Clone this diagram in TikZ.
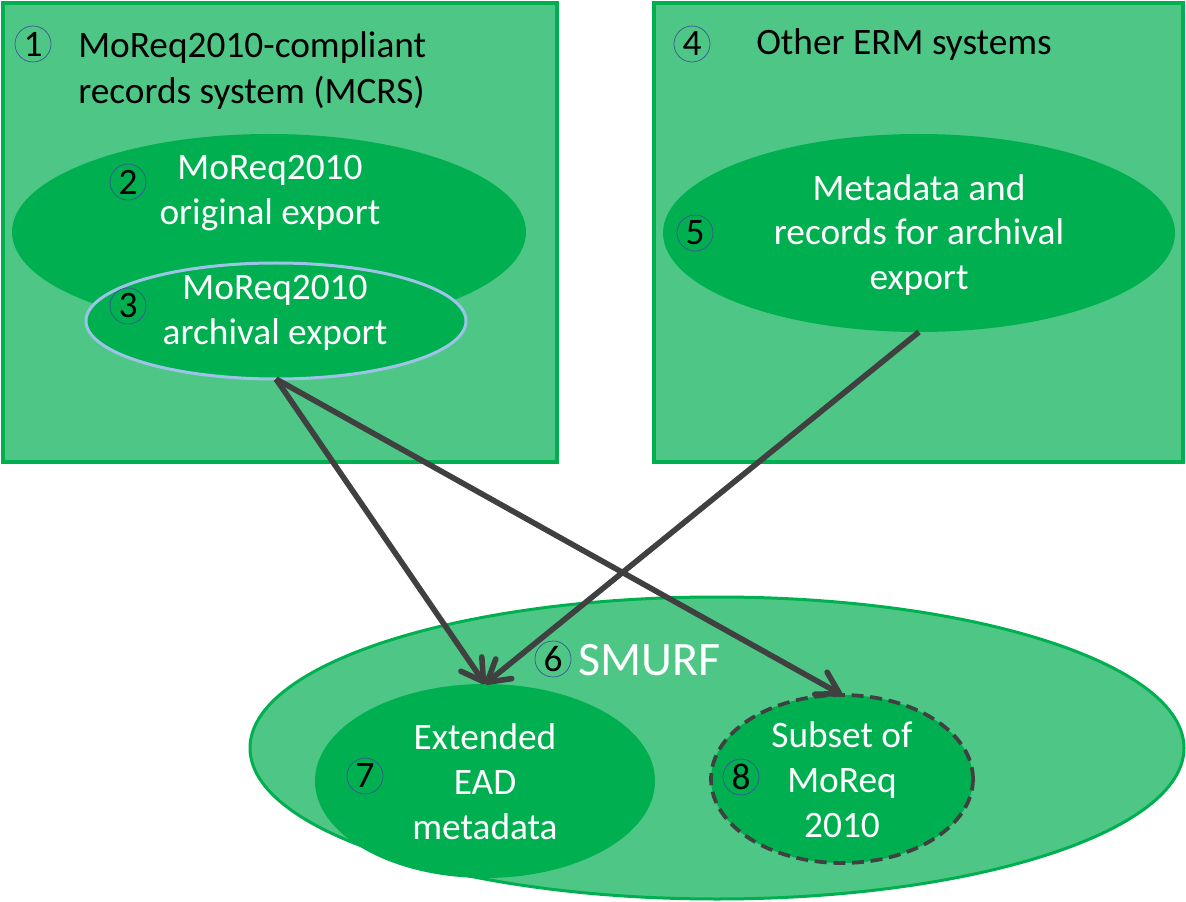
\documentclass[tikz,border=0pt]{standalone}
\usepackage{fontspec}
\setmainfont{Carlito}
\usetikzlibrary{shapes.geometric,arrows.meta}
\definecolor{lightg}{RGB}{78,199,134}
\definecolor{darkg}{RGB}{0,176,80}
\definecolor{edgeg}{RGB}{0,176,80}
\definecolor{arrc}{RGB}{64,64,64}
\definecolor{numc}{RGB}{60,80,150}
\definecolor{paleblue}{RGB}{157,195,230}
\begin{document}
\begin{tikzpicture}[x=0.75pt,y=-0.75pt,
  sysbox/.style={fill=lightg,draw=edgeg,line width=3pt},
  ell/.style={ellipse,inner sep=0pt,outer sep=0pt},
  num/.style={circle,draw=numc,line width=0.5pt,minimum size=27pt,inner sep=0pt,
    font=\fontsize{28}{28}\selectfont,text=black},
  blacktxt/.style={font=\fontsize{28}{34.5}\selectfont,text=black,inner sep=0pt},
  whitetxt/.style={font=\fontsize{28}{33.7}\selectfont,text=white,inner sep=0pt,align=center},
  flow/.style={draw=arrc,line width=4.2pt,line join=round,
    -{Straight Barb[length=16pt,width=19pt,line cap=round,line join=round]}}
]
\useasboundingbox (0,0) rectangle (1186,902);
% system boxes
\path[sysbox] (3,3) rectangle (557,462);
\path[sysbox] (654,3) rectangle (1183,462);
% ellipses in box 1
\node[ell,fill=darkg,minimum width=385.5pt,minimum height=147pt] (e2) at (269,232) {};
\node[ell,fill=darkg,draw=paleblue,line width=2.25pt,minimum width=285pt,minimum height=87pt] (e3) at (276,321) {};
% ellipse in box 4
\node[ell,fill=darkg,minimum width=384pt,minimum height=148.5pt] (e5) at (919,233) {};
% SMURF
\node[ell,fill=lightg,draw=edgeg,line width=2.25pt,minimum width=700.5pt,minimum height=226.5pt] (e6) at (717,748) {};
\node[ell,fill=darkg,minimum width=255pt,minimum height=145.5pt] (e7) at (485,781) {};
\node[ell,fill=darkg,draw=arrc,line width=2.8pt,dash pattern=on 9pt off 5pt,minimum width=196.5pt,minimum height=126pt] (e8) at (842,779) {};
% connectors
\draw[flow] (e3.south) -- (e7.north);
\draw[flow] (e3.south) -- (e8.north);
\draw[flow] (e5.south) -- (e7.north);
% numbers
\node[num] (n1) at (33,44) {1};
\node[num] (n2) at (128,182) {2};
\node[num] (n3) at (128,306) {3};
\node[num] (n4) at (692,44) {4};
\node[num] (n5) at (695,233) {5};
\node[num] (n6) at (553,659) {6};
\node[num] (n7) at (365,776) {7};
\node[num] (n8) at (741,777) {8};
% texts
\node[blacktxt,align=left,anchor=west] (t1) at (78,71) {MoReq2010-compliant\\records system (MCRS)};
\node[blacktxt,anchor=base west] (t4) at (756,55) {Other ERM systems};
\node[whitetxt] (t2) at (270,193) {MoReq2010\\original export};
\node[whitetxt] (t3) at (275,313) {MoReq2010\\archival export};
\node[whitetxt] (t5) at (919,235) {Metadata and\\records for archival\\export};
\node[whitetxt] (t7) at (485,782) {Extended\\EAD\\metadata};
\node[whitetxt] (t8) at (842,780) {Subset of\\MoReq\\2010};
\node[font=\fontsize{36}{36}\selectfont,text=white,inner sep=0pt,anchor=base west] (t6) at (578,675) {SMURF};
\end{tikzpicture}
\end{document}
